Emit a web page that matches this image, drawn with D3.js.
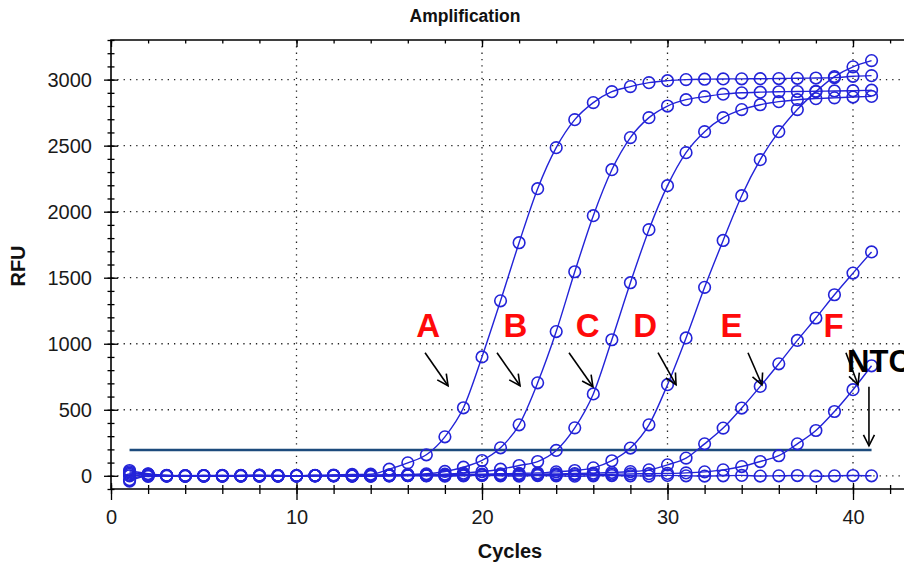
<!DOCTYPE html>
<html>
<head>
<meta charset="utf-8">
<script src="https://cdn.jsdelivr.net/npm/d3@7"></script>
<style>
  body { margin: 0; background: #fff; }
  svg { display: block; font-family: Arial, "Liberation Sans", sans-serif; }
</style>
</head>
<body>
<svg id="chart" width="904" height="564"></svg>
<script>
// cycles 1..41, RFU
const cycles = d3.range(1, 42);
const seriesA = [30,10,2,0,-2,0,3,5,2,0,3,6,10,12,50,98,159,295,515,900,1325,1765,2174,2485,2697,2826,2909,2947,2977,2992,3000,3003,3005,3006,3007,3008,3010,3012,3015,3025,3030];
const seriesB = [-30,5,0,-3,0,2,0,-2,0,1,2,0,3,5,7,10,15,33,65,116,212,386,704,1092,1545,1970,2318,2561,2712,2800,2848,2871,2890,2900,2905,2908,2910,2912,2914,2916,2920];
const seriesC = [40,15,3,0,-2,0,2,0,-3,0,2,1,0,3,5,6,8,12,20,32,50,78,108,192,363,620,1030,1462,1864,2197,2447,2606,2712,2773,2810,2833,2848,2856,2862,2868,2873];
const seriesD = [-40,0,2,-2,0,3,0,-2,0,1,0,2,0,2,3,5,6,8,10,12,15,18,22,30,40,60,114,210,386,690,1044,1427,1782,2121,2394,2606,2773,2909,3023,3097,3144];
const seriesE = [10,-5,0,2,0,-2,0,3,0,0,2,0,-2,0,2,3,4,5,6,8,9,10,12,14,17,20,25,32,45,83,134,242,361,513,677,848,1025,1195,1371,1535,1695];
const seriesF = [20,8,0,-2,2,0,-3,0,2,0,0,2,0,-2,0,1,2,2,3,4,5,6,7,8,9,10,12,14,16,18,22,30,45,70,108,152,242,343,487,652,833];
const seriesNTC = [0,12,-3,0,2,-2,0,3,0,-2,0,2,0,-3,0,2,0,-2,0,3,0,-2,2,0,-3,0,2,0,-2,3,0,-2,0,3,-2,0,2,-3,0,2,0];
const allSeries = [seriesNTC, seriesF, seriesE, seriesD, seriesC, seriesB, seriesA];

const threshold = 195;
const xTicks = [0, 10, 20, 30, 40];
const yTicks = [0, 500, 1000, 1500, 2000, 2500, 3000];

// annotation labels and arrows, in cycle / RFU units
const labelNames = ["A", "B", "C", "D", "E", "F"];
const labelX = [17.1, 21.8, 25.7, 28.8, 33.45, 38.95];
const labelY = 1053;
const arrowFrom = [[16.93, 932], [20.81, 932], [24.69, 932], [29.49, 932], [34.34, 932], [39.62, 932], [40.86, 674]];
const arrowTo = [[18.17, 682], [22.05, 682], [25.98, 674], [30.46, 689], [35.09, 689], [40.27, 689], [40.86, 227]];

const svg = d3.select("#chart");
const plotLeft = 111, plotTop = 40, plotBottom = 489;

const x = d3.scaleLinear().domain([0, 43]).range([plotLeft, plotLeft + 43 * 18.55]);
const y = d3.scaleLinear().domain([-100, 3300]).range([plotBottom, plotTop]);
const plotRight = x(43);

// dotted grid
const grid = svg.append("g")
  .attr("stroke", "#222")
  .attr("stroke-width", 1.3)
  .attr("stroke-dasharray", "1.3 5");
grid.selectAll(".vg").data(xTicks.slice(1)).join("line")
  .attr("class", "vg")
  .attr("x1", d => x(d)).attr("x2", d => x(d))
  .attr("y1", plotTop).attr("y2", plotBottom);
grid.selectAll(".hg").data(yTicks).join("line")
  .attr("class", "hg")
  .attr("x1", plotLeft).attr("x2", plotRight)
  .attr("y1", d => y(d)).attr("y2", d => y(d));

// axes
function styleAxis(g) {
  g.select(".domain").remove();
  g.selectAll(".tick line").attr("stroke", "#000").attr("stroke-width", 1.3);
  g.selectAll(".tick text").attr("fill", "#1a1a1a").attr("font-size", 20);
}
const yMinor = d3.range(-100, 3301, 100);
const xMinor = d3.range(0, 43, 2);

svg.append("g").attr("transform", `translate(${plotLeft},0)`)
  .call(d3.axisLeft(y).tickValues(yMinor).tickSize(3.5).tickFormat("")).call(styleAxis);
svg.append("g").attr("transform", `translate(${plotLeft},0)`)
  .call(d3.axisRight(y).tickValues(yMinor).tickSize(3.5).tickFormat("")).call(styleAxis);
svg.append("g").attr("transform", `translate(${plotLeft},0)`)
  .call(d3.axisLeft(y).tickValues(yTicks).tickSize(7).tickPadding(12).tickFormat(d3.format("d"))).call(styleAxis);
svg.append("g").attr("transform", `translate(${plotLeft},0)`)
  .call(d3.axisRight(y).tickValues(yTicks).tickSize(7).tickFormat("")).call(styleAxis);

svg.append("g").attr("transform", `translate(0,${plotBottom})`)
  .call(d3.axisBottom(x).tickValues(xMinor).tickSize(5).tickFormat("")).call(styleAxis);
svg.append("g").attr("transform", `translate(0,${plotBottom})`)
  .call(d3.axisTop(x).tickValues(xMinor).tickSize(4).tickFormat("")).call(styleAxis);
svg.append("g").attr("transform", `translate(0,${plotBottom})`)
  .call(d3.axisBottom(x).tickValues(xTicks).tickSize(11).tickPadding(10).tickFormat(d3.format("d"))).call(styleAxis);
svg.append("g").attr("transform", `translate(0,${plotBottom})`)
  .call(d3.axisTop(x).tickValues(xTicks).tickSize(6).tickFormat("")).call(styleAxis);

svg.append("g").attr("transform", `translate(0,${plotTop})`)
  .call(d3.axisBottom(x).tickValues(xMinor).tickSize(3.5).tickFormat("")).call(styleAxis);
svg.append("g").attr("transform", `translate(0,${plotTop})`)
  .call(d3.axisBottom(x).tickValues(xTicks).tickSize(7).tickFormat("")).call(styleAxis);

// frame
svg.append("path")
  .attr("d", `M${plotRight},${plotTop}H${plotLeft}V${plotBottom}H${plotRight}`)
  .attr("fill", "none").attr("stroke", "#000").attr("stroke-width", 1.6);

// threshold
svg.append("line")
  .attr("x1", x(1)).attr("x2", x(41))
  .attr("y1", y(threshold)).attr("y2", y(threshold))
  .attr("stroke", "#1c4b7c").attr("stroke-width", 2.6);

// curves
const blue = "#2323d8";
const line = d3.line()
  .x((d, i) => x(cycles[i]))
  .y(d => y(d))
  .curve(d3.curveMonotoneX);

const curves = svg.append("g");
allSeries.forEach(s => {
  const g = curves.append("g");
  g.append("path").attr("d", line(s))
    .attr("fill", "none").attr("stroke", blue).attr("stroke-width", 1.4);
  g.selectAll("circle").data(s).join("circle")
    .attr("cx", (d, i) => x(cycles[i]))
    .attr("cy", d => y(d))
    .attr("r", 5.8)
    .attr("fill", "none")
    .attr("stroke", blue)
    .attr("stroke-width", 1.6);
});

// arrows
svg.append("defs").append("marker")
  .attr("id", "head")
  .attr("markerUnits", "userSpaceOnUse")
  .attr("markerWidth", 24).attr("markerHeight", 24)
  .attr("viewBox", "-12 -12 24 24")
  .attr("refX", 0).attr("refY", 0)
  .attr("orient", "auto")
  .append("path")
  .attr("d", "M-11,-5.5L0,0L-11,5.5")
  .attr("fill", "none").attr("stroke", "#000").attr("stroke-width", 1.6);

svg.selectAll(".arrow").data(arrowFrom).join("line")
  .attr("class", "arrow")
  .attr("x1", d => x(d[0])).attr("y1", d => y(d[1]))
  .attr("x2", (d, i) => x(arrowTo[i][0])).attr("y2", (d, i) => y(arrowTo[i][1]))
  .attr("stroke", "#000").attr("stroke-width", 1.6)
  .attr("marker-end", "url(#head)");

// labels
svg.selectAll(".lbl").data(labelNames).join("text")
  .attr("class", "lbl")
  .attr("x", (d, i) => x(labelX[i]))
  .attr("y", y(labelY))
  .attr("text-anchor", "middle")
  .attr("font-size", 33)
  .attr("font-weight", "bold")
  .attr("fill", "#ff0a0a")
  .text(d => d);

svg.append("text")
  .attr("x", x(39.68)).attr("y", y(788))
  .attr("font-size", 31).attr("font-weight", "bold")
  .attr("fill", "#000")
  .text("NTC");

// titles
svg.append("text")
  .attr("x", 465).attr("y", 22)
  .attr("text-anchor", "middle")
  .attr("font-size", 17.5).attr("font-weight", "bold")
  .attr("fill", "#111")
  .text("Amplification");

svg.append("text")
  .attr("transform", "translate(25,266) rotate(-90)")
  .attr("text-anchor", "middle")
  .attr("font-size", 20).attr("font-weight", "bold")
  .attr("fill", "#111")
  .text("RFU");

svg.append("text")
  .attr("x", 510).attr("y", 558)
  .attr("text-anchor", "middle")
  .attr("font-size", 20).attr("font-weight", "bold")
  .attr("fill", "#111")
  .text("Cycles");
</script>
</body>
</html>
